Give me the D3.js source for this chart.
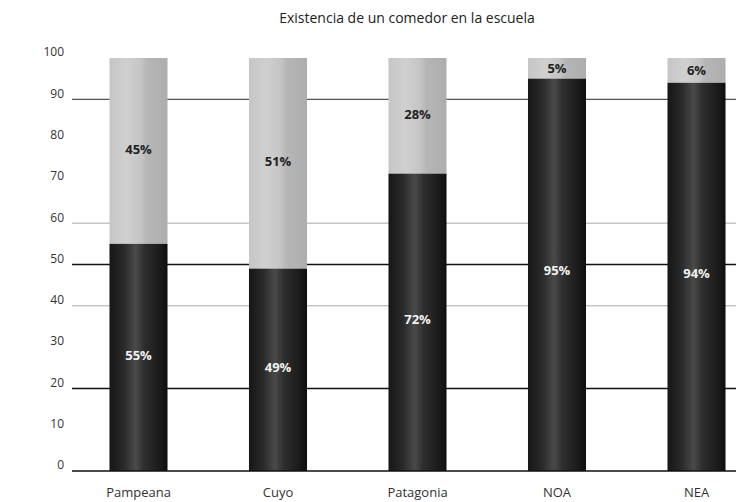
<!DOCTYPE html>
<html>
<head>
<meta charset="utf-8">
<script src="https://cdn.jsdelivr.net/npm/d3@7"></script>
<style>
  html, body { margin: 0; padding: 0; background: #fff; }
  svg { display: block; font-family: "Open Sans", "DejaVu Sans", sans-serif; }
</style>
</head>
<body>
<svg id="chart" width="736" height="502"></svg>
<script>
// Regions and share of schools with / without a dining room (%)
const regions = ["Pampeana", "Cuyo", "Patagonia", "NOA", "NEA"];
const conComedor = [55, 49, 72, 95, 94];
const sinComedor = [45, 51, 28, 5, 6];
const yTicks = [0, 10, 20, 30, 40, 50, 60, 70, 80, 90, 100];
const title = "Existencia de un comedor en la escuela";

const svg = d3.select("#chart");
const W = 736, H = 502;

const x = d3.scaleBand()
  .domain(regions)
  .range([68.75, 766.25])
  .paddingInner(0.584)
  .paddingOuter(0.292);

const y = d3.scaleLinear().domain([0, 100]).range([471, 58]);

// Cylinder-like shading for the bars
const defs = svg.append("defs");
const gDark = defs.append("linearGradient").attr("id", "gDark").attr("x1", "0").attr("x2", "1");
[[0, "#161616"], [0.25, "#2a2a2a"], [0.45, "#4a4a4a"], [0.6, "#2e2e2e"], [0.85, "#1c1c1c"], [1, "#0e0e0e"]]
  .forEach(([o, c]) => gDark.append("stop").attr("offset", o).attr("stop-color", c));
const gLight = defs.append("linearGradient").attr("id", "gLight").attr("x1", "0").attr("x2", "1");
[[0, "#c6c6c6"], [0.3, "#d0d0d0"], [0.55, "#c4c4c4"], [0.65, "#b6b6b6"], [1, "#adadad"]]
  .forEach(([o, c]) => gLight.append("stop").attr("offset", o).attr("stop-color", c));

// Title
svg.append("text")
  .attr("x", 407).attr("y", 23)
  .attr("text-anchor", "middle")
  .attr("font-size", 14)
  .attr("fill", "#222")
  .text(title);

// Horizontal reference lines
const gridStyle = { 90: ["#555", 1.3], 60: ["#aaa", 1], 50: ["#111", 1.5], 40: ["#aaa", 1], 20: ["#111", 1.5] };
svg.append("g").selectAll("line")
  .data(Object.keys(gridStyle).map(Number))
  .join("line")
  .attr("x1", 72).attr("x2", W)
  .attr("y1", d => y(d)).attr("y2", d => y(d))
  .attr("stroke", d => gridStyle[d][0])
  .attr("stroke-width", d => gridStyle[d][1]);

// Y axis labels
const yAxis = d3.axisLeft(y).tickValues(yTicks).tickSize(0).tickPadding(0);
const gy = svg.append("g").attr("transform", "translate(64,-6)").call(yAxis);
gy.select(".domain").remove();
gy.selectAll("text").attr("font-size", 12).attr("fill", "#333")
  .attr("font-family", "Open Sans, sans-serif");

// Bars
const barG = svg.append("g");
regions.forEach((r, i) => {
  const x0 = x(r), bw = x.bandwidth();
  const top = conComedor[i] + sinComedor[i];
  barG.append("rect")
    .attr("x", x0).attr("width", bw)
    .attr("y", y(top)).attr("height", y(conComedor[i]) - y(top))
    .attr("fill", "url(#gLight)");
  barG.append("rect")
    .attr("x", x0).attr("width", bw)
    .attr("y", y(conComedor[i])).attr("height", y(0) - y(conComedor[i]))
    .attr("fill", "url(#gDark)");
  // Value labels
  barG.append("text")
    .attr("x", x0 + bw / 2)
    .attr("y", y(conComedor[i] * 0.51))
    .attr("dy", "0.35em")
    .attr("text-anchor", "middle")
    .attr("font-size", 13).attr("font-weight", "bold")
    .attr("fill", "#f2f2f2")
    .text(conComedor[i] + "%");
  barG.append("text")
    .attr("x", x0 + bw / 2)
    .attr("y", y(conComedor[i] + sinComedor[i] * 0.51))
    .attr("dy", "0.35em")
    .attr("text-anchor", "middle")
    .attr("font-size", 13).attr("font-weight", "bold")
    .attr("fill", "#222")
    .text(sinComedor[i] + "%");
});

// Baseline
svg.append("line")
  .attr("x1", 72).attr("x2", W)
  .attr("y1", y(0)).attr("y2", y(0))
  .attr("stroke", "#111").attr("stroke-width", 1.5);

// Category labels
const xAxis = d3.axisBottom(x).tickSize(0).tickPadding(0);
const gx = svg.append("g").attr("transform", `translate(0,${y(0) + 17})`).call(xAxis);
gx.select(".domain").remove();
gx.selectAll("text").attr("font-size", 13).attr("fill", "#333")
  .attr("font-family", "Open Sans, sans-serif");
</script>
</body>
</html>
